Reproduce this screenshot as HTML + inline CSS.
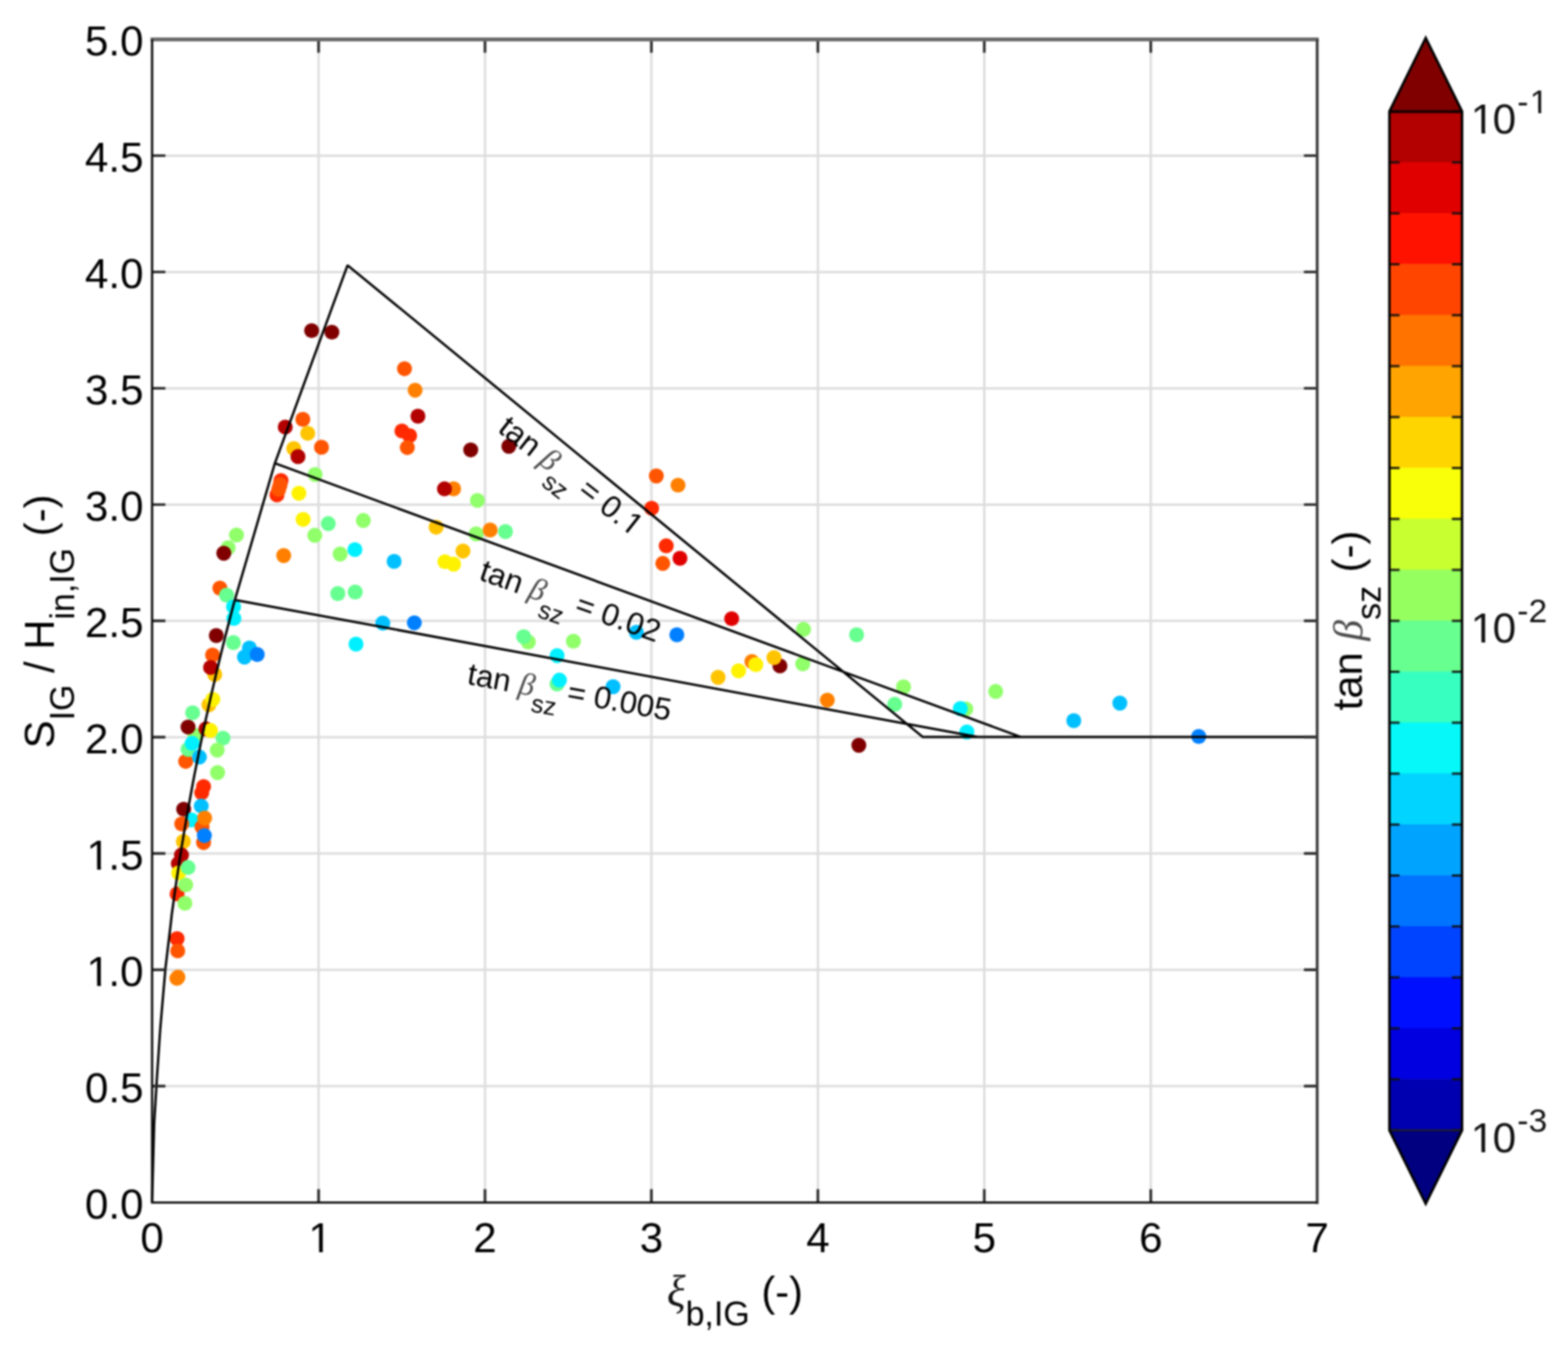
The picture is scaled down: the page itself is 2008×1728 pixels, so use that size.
<!DOCTYPE html>
<html><head><meta charset="utf-8"><title>Figure</title>
<style>html,body{margin:0;padding:0;background:#fff}body{width:2008px;height:1728px;overflow:hidden}</style>
</head><body>
<svg xmlns="http://www.w3.org/2000/svg" width="2008" height="1728" viewBox="0 0 2008 1728" style="display:block;font-family:'Liberation Sans',sans-serif;filter:blur(0.8px)">
<rect width="2008" height="1728" fill="#fff"/>
<path d="M408.0 50.5V1540.2M621.1 50.5V1540.2M834.2 50.5V1540.2M1047.4 50.5V1540.2M1260.5 50.5V1540.2M1473.7 50.5V1540.2M194.8 1391.2H1686.8M194.8 1242.2H1686.8M194.8 1093.3H1686.8M194.8 944.3H1686.8M194.8 795.3H1686.8M194.8 646.4H1686.8M194.8 497.4H1686.8M194.8 348.4H1686.8M194.8 199.4H1686.8" stroke="#dddddd" stroke-width="3" fill="none"/>
<circle cx="399.1" cy="423.5" r="9.6" fill="#800000"/>
<circle cx="425.0" cy="425.5" r="9.6" fill="#800000"/>
<circle cx="518.0" cy="472.3" r="9.6" fill="#ff5500"/>
<circle cx="531.6" cy="499.8" r="9.6" fill="#ff8000"/>
<circle cx="535.2" cy="533.1" r="9.6" fill="#b30000"/>
<circle cx="514.7" cy="552.0" r="9.6" fill="#ff2a00"/>
<circle cx="524.6" cy="558.0" r="9.6" fill="#ff2a00"/>
<circle cx="521.6" cy="573.3" r="9.6" fill="#ff5500"/>
<circle cx="387.8" cy="537.1" r="9.6" fill="#ff5500"/>
<circle cx="365.3" cy="547.0" r="9.6" fill="#b30000"/>
<circle cx="394.1" cy="555.0" r="9.6" fill="#ffc400"/>
<circle cx="411.7" cy="572.9" r="9.6" fill="#ff5500"/>
<circle cx="376.2" cy="574.5" r="9.6" fill="#ffc400"/>
<circle cx="381.6" cy="584.9" r="9.6" fill="#b30000"/>
<circle cx="403.5" cy="607.8" r="9.6" fill="#90ff6a"/>
<circle cx="359.9" cy="615.5" r="9.6" fill="#ff2a00"/>
<circle cx="354.7" cy="633.9" r="9.6" fill="#ff2a00"/>
<circle cx="358.7" cy="620.9" r="9.6" fill="#ff5500"/>
<circle cx="356.9" cy="626.9" r="9.6" fill="#ff5500"/>
<circle cx="382.8" cy="631.8" r="9.6" fill="#fff200"/>
<circle cx="580.9" cy="626.1" r="9.6" fill="#ff8000"/>
<circle cx="569.2" cy="626.2" r="9.6" fill="#b30000"/>
<circle cx="388.2" cy="665.3" r="9.6" fill="#fff200"/>
<circle cx="420.4" cy="670.7" r="9.6" fill="#66ff90"/>
<circle cx="465.3" cy="666.7" r="9.6" fill="#90ff6a"/>
<circle cx="403.1" cy="685.7" r="9.6" fill="#90ff6a"/>
<circle cx="558.5" cy="675.3" r="9.6" fill="#ffc400"/>
<circle cx="302.9" cy="685.3" r="9.6" fill="#90ff6a"/>
<circle cx="292.2" cy="701.6" r="9.6" fill="#90ff6a"/>
<circle cx="286.6" cy="708.6" r="9.6" fill="#800000"/>
<circle cx="363.3" cy="711.6" r="9.6" fill="#ff8000"/>
<circle cx="435.6" cy="709.6" r="9.6" fill="#90ff6a"/>
<circle cx="454.5" cy="704.0" r="9.6" fill="#00f0ff"/>
<circle cx="504.7" cy="719.1" r="9.6" fill="#00c0ff"/>
<circle cx="569.8" cy="719.5" r="9.6" fill="#fff200"/>
<circle cx="580.9" cy="722.7" r="9.6" fill="#fff200"/>
<circle cx="281.6" cy="753.4" r="9.6" fill="#ff5500"/>
<circle cx="290.2" cy="762.4" r="9.6" fill="#66ff90"/>
<circle cx="299.1" cy="777.3" r="9.6" fill="#00f0ff"/>
<circle cx="299.5" cy="792.2" r="9.6" fill="#00f0ff"/>
<circle cx="432.6" cy="760.4" r="9.6" fill="#66ff90"/>
<circle cx="454.9" cy="758.4" r="9.6" fill="#66ff90"/>
<circle cx="490.2" cy="798.2" r="9.6" fill="#00c0ff"/>
<circle cx="530.6" cy="797.8" r="9.6" fill="#0080ff"/>
<circle cx="455.9" cy="825.1" r="9.6" fill="#00f0ff"/>
<circle cx="277.0" cy="814.1" r="9.6" fill="#800000"/>
<circle cx="298.9" cy="823.1" r="9.6" fill="#66ff90"/>
<circle cx="319.4" cy="830.1" r="9.6" fill="#00c0ff"/>
<circle cx="313.1" cy="841.6" r="9.6" fill="#00c0ff"/>
<circle cx="329.4" cy="838.4" r="9.6" fill="#0080ff"/>
<circle cx="272.2" cy="839.0" r="9.6" fill="#ff5500"/>
<circle cx="275.0" cy="863.9" r="9.6" fill="#ffc400"/>
<circle cx="269.6" cy="855.0" r="9.6" fill="#b30000"/>
<circle cx="267.6" cy="902.8" r="9.6" fill="#ffc400"/>
<circle cx="272.6" cy="895.8" r="9.6" fill="#fff200"/>
<circle cx="246.7" cy="913.0" r="9.6" fill="#66ff90"/>
<circle cx="249.7" cy="941.8" r="9.6" fill="#90ff6a"/>
<circle cx="240.8" cy="931.3" r="9.6" fill="#800000"/>
<circle cx="263.7" cy="933.7" r="9.6" fill="#b30000"/>
<circle cx="269.6" cy="935.7" r="9.6" fill="#fff200"/>
<circle cx="285.6" cy="945.5" r="9.6" fill="#66ff90"/>
<circle cx="237.8" cy="975.3" r="9.6" fill="#ff5500"/>
<circle cx="240.8" cy="959.8" r="9.6" fill="#66ff90"/>
<circle cx="246.1" cy="952.2" r="9.6" fill="#00f0ff"/>
<circle cx="255.3" cy="969.7" r="9.6" fill="#00c0ff"/>
<circle cx="278.2" cy="960.8" r="9.6" fill="#90ff6a"/>
<circle cx="278.6" cy="989.6" r="9.6" fill="#90ff6a"/>
<circle cx="260.7" cy="1007.6" r="9.6" fill="#ff2a00"/>
<circle cx="258.3" cy="1015.5" r="9.6" fill="#ff2a00"/>
<circle cx="257.7" cy="1032.5" r="9.6" fill="#00c0ff"/>
<circle cx="235.2" cy="1036.5" r="9.6" fill="#800000"/>
<circle cx="245.3" cy="1050.4" r="9.6" fill="#00f0ff"/>
<circle cx="258.7" cy="1059.4" r="9.6" fill="#ff5500"/>
<circle cx="262.1" cy="1047.8" r="9.6" fill="#ff8000"/>
<circle cx="232.8" cy="1055.4" r="9.6" fill="#ff5500"/>
<circle cx="260.7" cy="1079.3" r="9.6" fill="#ff5500"/>
<circle cx="261.7" cy="1070.3" r="9.6" fill="#0080ff"/>
<circle cx="234.8" cy="1077.9" r="9.6" fill="#ffc400"/>
<circle cx="228.4" cy="1106.2" r="9.6" fill="#b30000"/>
<circle cx="232.4" cy="1095.2" r="9.6" fill="#b30000"/>
<circle cx="228.8" cy="1118.1" r="9.6" fill="#fff200"/>
<circle cx="240.8" cy="1111.2" r="9.6" fill="#66ff90"/>
<circle cx="226.8" cy="1145.0" r="9.6" fill="#ff2a00"/>
<circle cx="237.8" cy="1133.5" r="9.6" fill="#90ff6a"/>
<circle cx="236.8" cy="1157.0" r="9.6" fill="#90ff6a"/>
<circle cx="226.8" cy="1202.4" r="9.6" fill="#ff2a00"/>
<circle cx="227.6" cy="1218.0" r="9.6" fill="#ff5500"/>
<circle cx="226.6" cy="1253.2" r="9.6" fill="#ff8000"/>
<circle cx="227.9" cy="1251.7" r="9.6" fill="#ff8000"/>
<circle cx="602.8" cy="576.3" r="9.6" fill="#800000"/>
<circle cx="651.6" cy="571.7" r="9.6" fill="#800000"/>
<circle cx="611.4" cy="641.0" r="9.6" fill="#90ff6a"/>
<circle cx="609.8" cy="683.9" r="9.6" fill="#90ff6a"/>
<circle cx="627.7" cy="678.9" r="9.6" fill="#ff8000"/>
<circle cx="647.3" cy="680.9" r="9.6" fill="#66ff90"/>
<circle cx="592.9" cy="705.8" r="9.6" fill="#ffc400"/>
<circle cx="840.5" cy="609.6" r="9.6" fill="#ff5500"/>
<circle cx="868.3" cy="621.5" r="9.6" fill="#ff8000"/>
<circle cx="834.5" cy="651.0" r="9.6" fill="#ff2a00"/>
<circle cx="853.2" cy="699.2" r="9.6" fill="#ff2a00"/>
<circle cx="870.8" cy="715.1" r="9.6" fill="#e00000"/>
<circle cx="848.8" cy="721.7" r="9.6" fill="#ff5500"/>
<circle cx="676.5" cy="822.4" r="9.6" fill="#90ff6a"/>
<circle cx="670.6" cy="815.5" r="9.6" fill="#66ff90"/>
<circle cx="734.3" cy="821.4" r="9.6" fill="#90ff6a"/>
<circle cx="713.4" cy="839.8" r="9.6" fill="#00f0ff"/>
<circle cx="713.4" cy="876.2" r="9.6" fill="#66ff90"/>
<circle cx="716.4" cy="871.2" r="9.6" fill="#00f0ff"/>
<circle cx="785.1" cy="879.6" r="9.6" fill="#00c0ff"/>
<circle cx="815.0" cy="809.9" r="9.6" fill="#00c0ff"/>
<circle cx="866.8" cy="813.1" r="9.6" fill="#0080ff"/>
<circle cx="937.0" cy="792.5" r="9.6" fill="#e00000"/>
<circle cx="919.6" cy="867.6" r="9.6" fill="#ffc400"/>
<circle cx="945.8" cy="859.3" r="9.6" fill="#fff200"/>
<circle cx="962.9" cy="847.4" r="9.6" fill="#ff8000"/>
<circle cx="967.9" cy="851.4" r="9.6" fill="#fff200"/>
<circle cx="998.8" cy="853.0" r="9.6" fill="#800000"/>
<circle cx="991.2" cy="842.4" r="9.6" fill="#ffc400"/>
<circle cx="1029.0" cy="806.2" r="9.6" fill="#90ff6a"/>
<circle cx="1097.0" cy="813.1" r="9.6" fill="#66ff90"/>
<circle cx="1028.0" cy="850.4" r="9.6" fill="#90ff6a"/>
<circle cx="1059.5" cy="896.8" r="9.6" fill="#ff8000"/>
<circle cx="1099.8" cy="954.6" r="9.6" fill="#800000"/>
<circle cx="1157.1" cy="879.9" r="9.6" fill="#90ff6a"/>
<circle cx="1145.8" cy="902.2" r="9.6" fill="#66ff90"/>
<circle cx="1236.8" cy="908.2" r="9.6" fill="#90ff6a"/>
<circle cx="1229.8" cy="907.6" r="9.6" fill="#00f0ff"/>
<circle cx="1238.2" cy="937.6" r="9.6" fill="#00f0ff"/>
<circle cx="1275.1" cy="885.7" r="9.6" fill="#90ff6a"/>
<circle cx="1375.1" cy="923.1" r="9.6" fill="#00c0ff"/>
<circle cx="1434.1" cy="900.6" r="9.6" fill="#00c0ff"/>
<circle cx="1535.1" cy="943.4" r="9.6" fill="#0080ff"/>
<path d="M194.8 1540.2L197.4 1440.0L201.0 1380.0L205.2 1318.0L211.9 1240.0L218.7 1183.0L220.0 1171.0L221.7 1159.0L223.3 1147.0L225.0 1135.0L226.8 1123.0L228.6 1111.0L230.4 1099.0L232.3 1087.0L234.3 1075.0L236.3 1063.0L238.3 1051.0L240.4 1039.0L242.6 1027.0L244.8 1015.0L247.0 1003.0L249.3 991.0L251.7 979.0L254.1 967.0L256.5 955.0L259.0 943.0L261.5 931.0L264.1 919.0L266.8 907.0L269.4 895.0L272.2 883.0L275.0 871.0L277.8 859.0L280.7 847.0L283.6 835.0L286.6 823.0L289.6 811.0L292.7 799.0L295.8 787.0L298.9 775.0L300.8 768.4L352.0 593.4L445.1 339.8L1181.8 944.1H1686.8M352.0 593.4L1307.5 944.1M300.8 768.4L1252.0 944.1" stroke="#000" stroke-width="3.0" fill="none" stroke-linejoin="bevel"/>
<path d="M408.0 1540.2v-17M408.0 50.5v17M621.1 1540.2v-17M621.1 50.5v17M834.2 1540.2v-17M834.2 50.5v17M1047.4 1540.2v-17M1047.4 50.5v17M1260.5 1540.2v-17M1260.5 50.5v17M1473.7 1540.2v-17M1473.7 50.5v17M194.8 1391.2h17M1686.8 1391.2h-17M194.8 1242.2h17M1686.8 1242.2h-17M194.8 1093.3h17M1686.8 1093.3h-17M194.8 944.3h17M1686.8 944.3h-17M194.8 795.3h17M1686.8 795.3h-17M194.8 646.4h17M1686.8 646.4h-17M194.8 497.4h17M1686.8 497.4h-17M194.8 348.4h17M1686.8 348.4h-17M194.8 199.4h17M1686.8 199.4h-17" stroke="#2a2a2a" stroke-width="3.4" fill="none"/>
<path d="M192.8 50.5H1688.8" stroke="#6a6a6a" stroke-width="5" fill="none"/>
<path d="M1686.8 50.5V1542.2" stroke="#3a3a3a" stroke-width="3.6" fill="none"/>
<path d="M194.8 50.5V1540.4H1686.8" stroke="#0a0a0a" stroke-width="2.9" fill="none" stroke-linejoin="miter"/>
<g><text id="t1" x="108.74" y="1561.1" font-size="54" fill="#000">0.0</text></g>
<g><text id="t2" x="108.74" y="1412.1" font-size="54" fill="#000">0.5</text></g>
<g><text id="t3" x="108.74" y="1263.2" font-size="54" fill="#000"><tspan dx="2.11">1</tspan><tspan dx="-2.11">.</tspan>0</text><rect x="114.16" y="1258.67" width="10.27" height="5.23" fill="#fff"/><rect x="129.20" y="1258.67" width="9.84" height="5.23" fill="#fff"/></g>
<g><text id="t4" x="108.74" y="1114.2" font-size="54" fill="#000"><tspan dx="2.11">1</tspan><tspan dx="-2.11">.</tspan>5</text><rect x="114.16" y="1109.67" width="10.27" height="5.23" fill="#fff"/><rect x="129.20" y="1109.67" width="9.84" height="5.23" fill="#fff"/></g>
<g><text id="t5" x="108.74" y="965.2" font-size="54" fill="#000">2.0</text></g>
<g><text id="t6" x="108.74" y="816.2" font-size="54" fill="#000">2.5</text></g>
<g><text id="t7" x="108.74" y="667.3" font-size="54" fill="#000">3.0</text></g>
<g><text id="t8" x="108.74" y="518.3" font-size="54" fill="#000">3.5</text></g>
<g><text id="t9" x="108.74" y="369.3" font-size="54" fill="#000">4.0</text></g>
<g><text id="t10" x="108.74" y="220.3" font-size="54" fill="#000">4.5</text></g>
<g><text id="t11" x="108.74" y="71.4" font-size="54" fill="#000">5.0</text></g>
<g><text id="t12" x="179.79" y="1604" font-size="54" fill="#000">0</text></g>
<g><text id="t13" x="392.94" y="1604" font-size="54" fill="#000"><tspan dx="2.11">1</tspan></text><rect x="398.36" y="1599.47" width="10.27" height="5.23" fill="#fff"/><rect x="413.40" y="1599.47" width="9.84" height="5.23" fill="#fff"/></g>
<g><text id="t14" x="606.09" y="1604" font-size="54" fill="#000">2</text></g>
<g><text id="t15" x="819.24" y="1604" font-size="54" fill="#000">3</text></g>
<g><text id="t16" x="1032.39" y="1604" font-size="54" fill="#000">4</text></g>
<g><text id="t17" x="1245.54" y="1604" font-size="54" fill="#000">5</text></g>
<g><text id="t18" x="1458.69" y="1604" font-size="54" fill="#000">6</text></g>
<g><text id="t19" x="1671.84" y="1604" font-size="54" fill="#000">7</text></g>
<g><text id="t20" x="941.2" y="1672.5" font-size="53.5" text-anchor="middle" fill="#000"><tspan font-family="'Liberation Serif',serif" font-style="italic" font-size="56" fill="#111">ξ</tspan><tspan font-size="43.5" dy="25">b,IG</tspan><tspan dy="-25"> (-)</tspan></text></g>
<g transform="translate(69,796) rotate(-90)"><text id="t21" font-size="53.5" text-anchor="middle" fill="#000">S<tspan font-size="43.5" dy="26">IG</tspan><tspan dy="-26"> / H</tspan><tspan font-size="43.5" dy="26">in,IG</tspan><tspan dy="-26"> (-)</tspan></text></g>
<rect x="1779.3" y="142.40" width="93.0" height="65.85" fill="#b30000"/>
<rect x="1779.3" y="207.65" width="93.0" height="65.85" fill="#e00000"/>
<rect x="1779.3" y="272.91" width="93.0" height="65.85" fill="#ff1300"/>
<rect x="1779.3" y="338.16" width="93.0" height="65.85" fill="#ff4500"/>
<rect x="1779.3" y="403.42" width="93.0" height="65.85" fill="#ff7300"/>
<rect x="1779.3" y="468.67" width="93.0" height="65.85" fill="#ffa400"/>
<rect x="1779.3" y="533.93" width="93.0" height="65.85" fill="#ffd500"/>
<rect x="1779.3" y="599.18" width="93.0" height="65.85" fill="#f8ff08"/>
<rect x="1779.3" y="664.44" width="93.0" height="65.85" fill="#c7ff30"/>
<rect x="1779.3" y="729.69" width="93.0" height="65.85" fill="#96ff60"/>
<rect x="1779.3" y="794.95" width="93.0" height="65.85" fill="#66ff90"/>
<rect x="1779.3" y="860.20" width="93.0" height="65.85" fill="#36ffc0"/>
<rect x="1779.3" y="925.46" width="93.0" height="65.85" fill="#06f8f8"/>
<rect x="1779.3" y="990.71" width="93.0" height="65.85" fill="#00d4ff"/>
<rect x="1779.3" y="1055.97" width="93.0" height="65.85" fill="#00a4ff"/>
<rect x="1779.3" y="1121.22" width="93.0" height="65.85" fill="#0074ff"/>
<rect x="1779.3" y="1186.48" width="93.0" height="65.85" fill="#0044ff"/>
<rect x="1779.3" y="1251.74" width="93.0" height="65.85" fill="#0010ff"/>
<rect x="1779.3" y="1316.99" width="93.0" height="65.85" fill="#0000e0"/>
<rect x="1779.3" y="1382.24" width="93.0" height="65.85" fill="#0000b0"/>
<path d="M1779.3 142.7L1825.8 48.5L1872.3 142.7Z" fill="#800000"/>
<path d="M1779.3 1447.8L1825.8 1542.0L1872.3 1447.8Z" fill="#000080"/>
<path d="M1779.3 142.7h13M1872.3 142.7h-13M1779.3 208.0h13M1872.3 208.0h-13M1779.3 273.2h13M1872.3 273.2h-13M1779.3 338.5h13M1872.3 338.5h-13M1779.3 403.7h13M1872.3 403.7h-13M1779.3 469.0h13M1872.3 469.0h-13M1779.3 534.2h13M1872.3 534.2h-13M1779.3 599.5h13M1872.3 599.5h-13M1779.3 664.7h13M1872.3 664.7h-13M1779.3 730.0h13M1872.3 730.0h-13M1779.3 795.2h13M1872.3 795.2h-13M1779.3 860.5h13M1872.3 860.5h-13M1779.3 925.8h13M1872.3 925.8h-13M1779.3 991.0h13M1872.3 991.0h-13M1779.3 1056.3h13M1872.3 1056.3h-13M1779.3 1121.5h13M1872.3 1121.5h-13M1779.3 1186.8h13M1872.3 1186.8h-13M1779.3 1252.0h13M1872.3 1252.0h-13M1779.3 1317.3h13M1872.3 1317.3h-13M1779.3 1382.5h13M1872.3 1382.5h-13M1779.3 1447.8h13M1872.3 1447.8h-13" stroke="#111" stroke-opacity="0.9" stroke-width="3" fill="none"/>
<path d="M1779.3 143.0H1872.3" stroke="#160000" stroke-opacity="0.9" stroke-width="4" fill="none"/>
<path d="M1779.3 1447.8H1872.3" stroke="#222" stroke-width="2" fill="none"/>
<path d="M1779.3 142.7L1825.8 48.5L1872.3 142.7V1447.8L1825.8 1542.0L1779.3 1447.8Z" fill="none" stroke="#000" stroke-width="3.2" stroke-linejoin="miter"/>
<g><text id="t22" x="1881.5" y="170.7" font-size="54" fill="#111"><tspan dx="2.11">1</tspan><tspan dx="-2.11">0</tspan><tspan font-size="43" dy="-26" dx="1.5">-<tspan dx="1.68">1</tspan></tspan></text><rect x="1886.92" y="166.17" width="10.27" height="5.23" fill="#fff"/><rect x="1901.96" y="166.17" width="9.84" height="5.23" fill="#fff"/><rect x="1961.58" y="140.99" width="8.34" height="4.41" fill="#fff"/><rect x="1973.72" y="140.99" width="8.00" height="4.41" fill="#fff"/></g>
<g><text id="t23" x="1881.5" y="823.2" font-size="54" fill="#111"><tspan dx="2.11">1</tspan><tspan dx="-2.11">0</tspan><tspan font-size="43" dy="-26" dx="1.5">-2</tspan></text><rect x="1886.92" y="818.67" width="10.27" height="5.23" fill="#fff"/><rect x="1901.96" y="818.67" width="9.84" height="5.23" fill="#fff"/></g>
<g><text id="t24" x="1881.5" y="1475.8" font-size="54" fill="#111"><tspan dx="2.11">1</tspan><tspan dx="-2.11">0</tspan><tspan font-size="43" dy="-26" dx="1.5">-3</tspan></text><rect x="1886.92" y="1471.27" width="10.27" height="5.23" fill="#fff"/><rect x="1901.96" y="1471.27" width="9.84" height="5.23" fill="#fff"/></g>
<g transform="translate(1743.7,794.8) rotate(-90)"><text id="t25" font-size="53.5" text-anchor="middle" fill="#000">tan <tspan font-family="'Liberation Serif',serif" font-style="italic" fill="#4a4a4a">β</tspan><tspan font-size="43.5" dy="24">sz</tspan><tspan dy="-24" dx="2.5"> (-)</tspan></text></g>
<g transform="translate(636,552) rotate(38)"><text id="t26" font-size="40" fill="#000">tan <tspan font-family="'Liberation Serif',serif" font-style="italic" fill="#4a4a4a">β</tspan><tspan font-size="32" dy="20">sz</tspan><tspan dy="-20"> = </tspan>0.<tspan dx="1.56">1</tspan></text><rect x="201.40" y="-3.49" width="7.81" height="4.19" fill="#fff"/><rect x="212.75" y="-3.49" width="7.50" height="4.19" fill="#fff"/></g>
<g transform="translate(612,742) rotate(19.5)"><text id="t27" font-size="40" fill="#000">tan <tspan font-family="'Liberation Serif',serif" font-style="italic" fill="#4a4a4a">β</tspan><tspan font-size="32" dy="20">sz</tspan><tspan dy="-20"> = </tspan>0.02</text></g>
<g transform="translate(597,876) rotate(10.3)"><text id="t28" font-size="40" fill="#000">tan <tspan font-family="'Liberation Serif',serif" font-style="italic" fill="#4a4a4a">β</tspan><tspan font-size="32" dy="20">sz</tspan><tspan dy="-20"> = </tspan>0.005</text></g>
</svg>
</body></html>
